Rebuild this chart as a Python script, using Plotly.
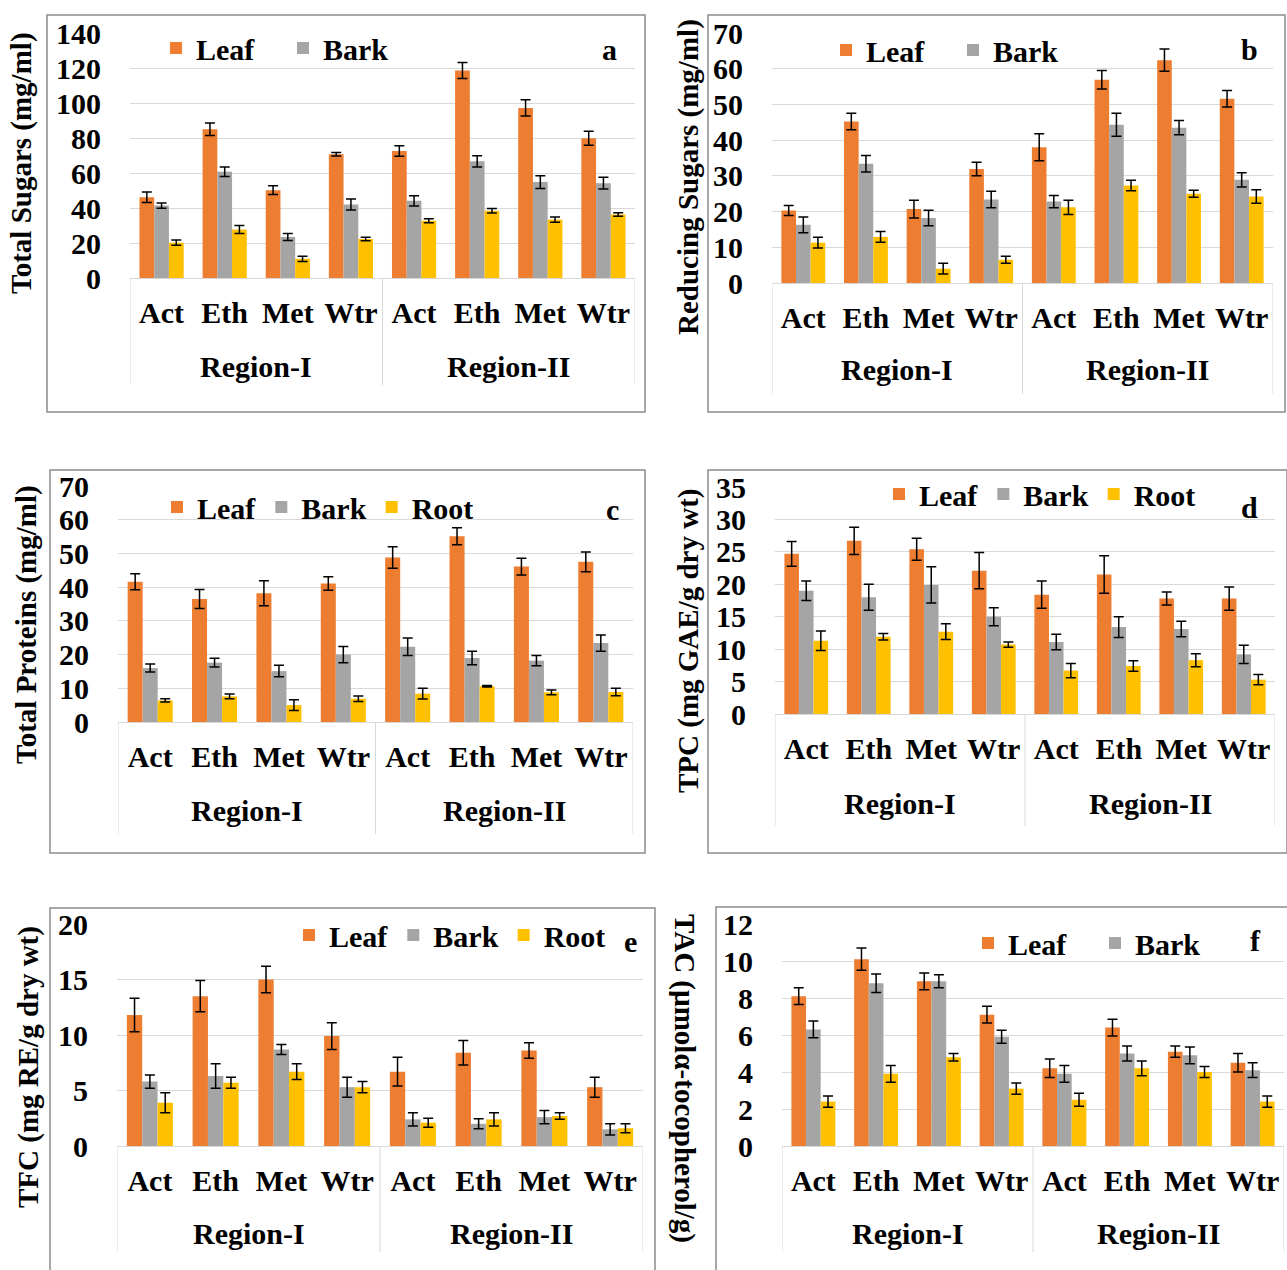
import plotly.graph_objects as go

W, H = 1287, 1270

solvents = ["Act", "Eth", "Met", "Wtr", "Act", "Eth", "Met", "Wtr"]
regions = ["Region-I"] * 4 + ["Region-II"] * 4
parts = ["Leaf", "Bark", "Root"]

# (a) Total sugars (mg/ml)
ts_leaf = [46.2, 85.0, 50.2, 70.7, 72.6, 118.6, 97.2, 79.8]
ts_leaf_err = [3.0, 3.6, 2.5, 1.0, 3.0, 4.6, 4.6, 4.0]
ts_bark = [41.4, 60.7, 23.5, 42.0, 44.1, 66.7, 54.8, 54.2]
ts_bark_err = [1.5, 2.7, 2.0, 3.2, 2.9, 3.2, 3.6, 3.4]
ts_root = [20.2, 27.7, 11.0, 22.3, 32.7, 38.4, 33.4, 36.3]
ts_root_err = [1.5, 2.3, 1.5, 1.0, 1.1, 1.3, 1.5, 1.0]

# (b) Reducing sugars (mg/ml)
rs_leaf = [20.3, 45.2, 20.7, 31.9, 38.0, 56.9, 62.4, 51.6]
rs_leaf_err = [1.4, 2.3, 2.5, 1.9, 3.8, 2.6, 3.1, 2.3]
rs_bark = [16.3, 33.4, 18.2, 23.4, 22.8, 44.3, 43.5, 28.9]
rs_bark_err = [2.2, 2.3, 2.2, 2.3, 1.7, 3.2, 2.0, 2.0]
rs_root = [11.3, 12.9, 4.0, 6.5, 21.2, 27.3, 25.0, 24.2]
rs_root_err = [1.5, 1.5, 1.5, 1.0, 2.0, 1.5, 1.0, 1.9]

# (c) Total proteins (mg/ml)
tp_leaf = [41.6, 36.5, 38.2, 41.1, 48.8, 55.1, 46.1, 47.5]
tp_leaf_err = [2.4, 2.8, 3.7, 2.0, 3.2, 2.5, 2.5, 2.9]
tp_bark = [16.0, 17.6, 15.1, 20.0, 22.3, 19.0, 18.2, 23.4]
tp_bark_err = [1.2, 1.3, 1.7, 2.4, 2.6, 2.0, 1.5, 2.4]
tp_root = [6.4, 7.6, 5.0, 6.9, 8.4, 10.6, 8.8, 8.9]
tp_root_err = [0.5, 0.7, 1.6, 0.8, 1.6, 0.2, 0.7, 1.1]

# (d) TPC (mg GAE/g dry wt)
tpc_leaf = [24.7, 26.7, 25.4, 22.1, 18.4, 21.5, 17.8, 17.8]
tpc_leaf_err = [1.9, 2.1, 1.7, 2.8, 2.1, 2.9, 1.0, 1.8]
tpc_bark = [19.0, 18.0, 19.9, 15.0, 11.1, 13.4, 13.1, 9.2]
tpc_bark_err = [1.5, 2.0, 2.8, 1.4, 1.2, 1.6, 1.2, 1.4]
tpc_root = [11.3, 11.9, 12.7, 10.7, 6.7, 7.4, 8.3, 5.3]
tpc_root_err = [1.5, 0.5, 1.2, 0.4, 1.1, 0.8, 1.0, 0.8]

# (e) TFC (mg RE/g dry wt)
tfc_leaf = [11.8, 13.5, 15.0, 9.9, 6.7, 8.4, 8.6, 5.3]
tfc_leaf_err = [1.5, 1.4, 1.2, 1.2, 1.3, 1.1, 0.7, 0.9]
tfc_bark = [5.8, 6.3, 8.7, 5.3, 2.4, 2.0, 2.6, 1.5]
tfc_bark_err = [0.6, 1.1, 0.45, 0.9, 0.6, 0.45, 0.6, 0.5]
tfc_root = [3.9, 5.7, 6.7, 5.3, 2.1, 2.4, 2.7, 1.6]
tfc_root_err = [0.9, 0.5, 0.7, 0.5, 0.4, 0.6, 0.3, 0.4]

# (f) TAC (umol alpha-tocopherol/g)
tac_leaf = [8.1, 10.1, 8.9, 7.1, 4.2, 6.4, 5.1, 4.5]
tac_leaf_err = [0.45, 0.6, 0.45, 0.45, 0.5, 0.45, 0.3, 0.5]
tac_bark = [6.3, 8.8, 8.9, 5.9, 3.9, 5.0, 4.9, 4.1]
tac_bark_err = [0.45, 0.5, 0.35, 0.35, 0.45, 0.4, 0.45, 0.4]
tac_root = [2.4, 3.9, 4.8, 3.1, 2.5, 4.2, 4.0, 2.4]
tac_root_err = [0.3, 0.45, 0.2, 0.3, 0.35, 0.4, 0.3, 0.3]

colors = {"Leaf": "#ED7D31", "Bark": "#A5A5A5", "Root": "#FFC000"}
FONT = "Liberation Serif"
FS = 30      # horizontal text
FS_T = 29    # rotated axis titles

panels = [
    dict(letter="a", title="Total Sugars (mg/ml)", ymax=140, dtick=20,
         series=[(ts_leaf, ts_leaf_err), (ts_bark, ts_bark_err), (ts_root, ts_root_err)],
         root_legend=False, plot=(130, 635, 33, 278), box=(47, 645, 15, 412),
         tpos=(22, 163), tangle=-90, leg=(156, 48), entry=82, letpos=(609, 49),
         reg_y=367, div_y=385),
    dict(letter="b", title="Reducing Sugars (mg/ml)", ymax=70, dtick=10,
         series=[(rs_leaf, rs_leaf_err), (rs_bark, rs_bark_err), (rs_root, rs_root_err)],
         root_legend=False, plot=(772, 1273, 33, 283), box=(708, 1285, 15, 412),
         tpos=(688, 177), tangle=-90, leg=(826, 50), entry=82, letpos=(1249, 49),
         reg_y=370, div_y=394),
    dict(letter="c", title="Total Proteins (mg/ml)", ymax=70, dtick=10,
         series=[(tp_leaf, tp_leaf_err), (tp_bark, tp_bark_err), (tp_root, tp_root_err)],
         root_legend=True, plot=(118, 633, 486, 722), box=(50, 645, 470, 853),
         tpos=(26, 625), tangle=-90, leg=(157, 507), entry=None, letpos=(612, 509),
         reg_y=810, div_y=834),
    dict(letter="d", title="TPC (mg GAE/g dry wt)", ymax=35, dtick=5,
         series=[(tpc_leaf, tpc_leaf_err), (tpc_bark, tpc_bark_err), (tpc_root, tpc_root_err)],
         root_legend=True, plot=(775, 1275, 487, 714), box=(708, 1287, 470, 853),
         tpos=(688, 641), tangle=-90, leg=(879, 494), entry=None, letpos=(1249, 507),
         reg_y=803, div_y=826),
    dict(letter="e", title="TFC (mg RE/g dry wt)", ymax=20, dtick=5,
         series=[(tfc_leaf, tfc_leaf_err), (tfc_bark, tfc_bark_err), (tfc_root, tfc_root_err)],
         root_legend=True, plot=(117, 643, 924, 1146), box=(50, 655, 908, 1272),
         tpos=(28, 1067), tangle=-90, leg=(289, 935), entry=None, letpos=(630, 942),
         reg_y=1233, div_y=1252),
    dict(letter="f", title="TAC (µmolα-tocopherol/g)", ymax=12, dtick=2,
         series=[(tac_leaf, tac_leaf_err), (tac_bark, tac_bark_err), (tac_root, tac_root_err)],
         root_legend=False, plot=(782, 1284, 924, 1146), box=(716, 1289, 907, 1272),
         tpos=(685, 1078), tangle=90, leg=(968, 943), entry=82, letpos=(1255, 940),
         reg_y=1233, div_y=1252),
]

# unique category keys (region + solvent); solvent names shown as tick text
cats = [f"{r}|{s}" for r, s in zip(regions, solvents)]
region_names = []
for r in regions:
    if r not in region_names:
        region_names.append(r)
region_centers = [sum(i for i, rr in enumerate(regions) if rr == r) / regions.count(r)
                  for r in region_names]
boundaries = [-0.5] + [i - 0.5 for i in range(1, len(regions)) if regions[i] != regions[i - 1]] \
             + [len(regions) - 0.5]


def px(x):
    return x / W


def py(y):
    return 1 - y / H


fig = go.Figure()
layout = dict(width=W, height=H,
              margin=dict(l=0, r=0, t=0, b=0, pad=0, autoexpand=False),
              paper_bgcolor="white", plot_bgcolor="white",
              barmode="group", bargap=0.3, bargroupgap=0.0,
              font=dict(family=FONT, size=FS, color="black", weight="bold"),
              annotations=[], shapes=[])

for i, p in enumerate(panels):
    n = i + 1
    xa = "x" if n == 1 else f"x{n}"
    ya = "y" if n == 1 else f"y{n}"
    leg = "legend" if n == 1 else f"legend{n}"
    for part, (vals, errs) in zip(parts, p["series"]):
        fig.add_trace(go.Bar(
            x=cats, y=vals, name=part,
            marker=dict(color=colors[part], line=dict(width=0)),
            error_y=dict(type="data", array=errs, visible=True,
                         color="black", thickness=1.5, width=5),
            xaxis=xa, yaxis=ya, legend=leg,
            showlegend=(part != "Root" or p["root_legend"]),
        ))
    x0, x1, y0, y1 = p["plot"]
    layout["xaxis" if n == 1 else f"xaxis{n}"] = dict(
        domain=[px(x0), px(x1)], anchor=ya, type="category",
        categoryorder="array", categoryarray=cats,
        tickmode="array", tickvals=cats, ticktext=solvents,
        range=[-0.5, len(cats) - 0.5],
        showline=True, linecolor="#D9D9D9", linewidth=1,
        showgrid=False, zeroline=False, automargin=False,
        ticks="outside", ticklen=8, tickcolor="rgba(0,0,0,0)",
        tickfont=dict(family=FONT, size=FS, color="black", weight="bold"),
    )
    layout["yaxis" if n == 1 else f"yaxis{n}"] = dict(
        domain=[py(y1), py(y0)], anchor=xa, range=[0, p["ymax"]],
        dtick=p["dtick"], showgrid=True, gridcolor="#D9D9D9", gridwidth=1,
        zeroline=False, showline=False, automargin=False,
        ticks="outside", ticklen=22, tickcolor="rgba(0,0,0,0)",
        tickfont=dict(family=FONT, size=FS, color="black", weight="bold"),
    )
    lx, ly = p["leg"]
    legd = dict(
        x=px(lx), y=py(ly), xanchor="left", yanchor="middle", xref="paper", yref="paper",
        orientation="h", bgcolor="rgba(0,0,0,0)", borderwidth=0,
        font=dict(family=FONT, size=FS, color="black", weight="bold"),
        itemwidth=30, tracegroupgap=0,
    )
    if p["entry"]:
        legd["entrywidth"] = p["entry"]
        legd["entrywidthmode"] = "pixels"
    layout[leg] = legd

    # category group dividers and region labels
    for b in boundaries:
        layout["shapes"].append(dict(
            type="line", xref=xa, yref="paper", x0=b, x1=b,
            y0=py(y1), y1=py(p["div_y"]),
            line=dict(color="#D9D9D9", width=1)))
    for rname, rc in zip(region_names, region_centers):
        layout["annotations"].append(dict(
            text=rname, x=rc, y=py(p["reg_y"]), xref=xa, yref="paper",
            showarrow=False, xanchor="center", yanchor="middle",
            font=dict(family=FONT, size=FS, color="black", weight="bold")))

    bx0, bx1, by0, by1 = p["box"]
    layout["shapes"].append(dict(
        type="rect", xref="paper", yref="paper",
        x0=px(bx0), x1=px(bx1), y0=py(by1), y1=py(by0),
        line=dict(color="#8C8C8C", width=1.5), fillcolor="rgba(0,0,0,0)", layer="below"))
    tx, ty = p["tpos"]
    layout["annotations"].append(dict(
        text=p["title"], x=px(tx), y=py(ty), xref="paper", yref="paper",
        showarrow=False, textangle=p["tangle"], xanchor="center", yanchor="middle",
        font=dict(family=FONT, size=FS_T, color="black", weight="bold")))
    lx2, ly2 = p["letpos"]
    layout["annotations"].append(dict(
        text=p["letter"], x=px(lx2), y=py(ly2), xref="paper", yref="paper",
        showarrow=False, xanchor="center", yanchor="middle",
        font=dict(family=FONT, size=FS, color="black", weight="bold")))

fig.update_layout(**layout)
fig.write_html("out.html", config={"displayModeBar": False},
               post_script="document.body.style.margin='0px';")
